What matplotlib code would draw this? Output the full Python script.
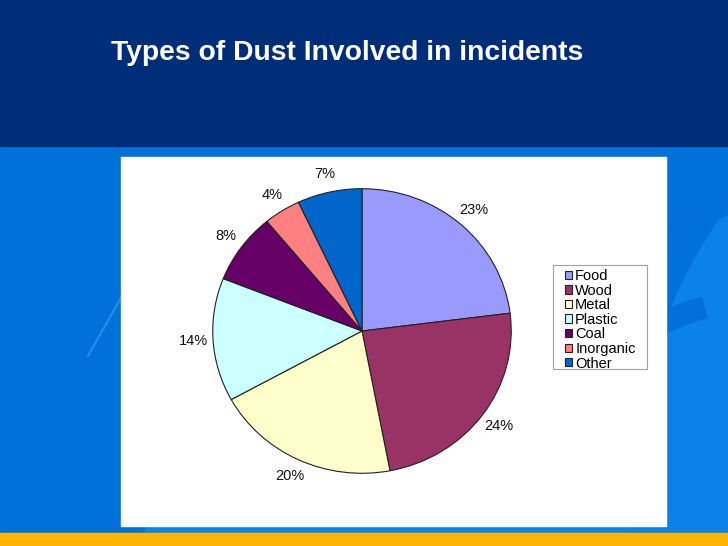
import matplotlib
matplotlib.use("Agg")
import matplotlib.pyplot as plt
from matplotlib.patches import Rectangle, Ellipse, Arc

categories = ["Food", "Wood", "Metal", "Plastic", "Coal", "Inorganic", "Other"]
values = [23, 24, 20, 14, 8, 4, 7]
colors = ["#9999ff", "#993366", "#ffffcc", "#ccffff", "#660066", "#ff8080", "#0066cc"]
title = "Types of Dust Involved in incidents"

plt.rcParams['font.family'] = ['Liberation Sans', 'DejaVu Sans']
W, H = 728, 546
fig = plt.figure(figsize=(W / 100, H / 100), dpi=100)

bg = fig.add_axes([0, 0, 1, 1])
bg.set_xlim(0, W)
bg.set_ylim(H, 0)
bg.axis("off")
bg.add_patch(Rectangle((0, 0), W, H, color="#0070da", zorder=0))
# subtle swooshes
bg.add_patch(Ellipse((520, 820), 920, 1000, color="#0a84e6", zorder=1))
bg.add_patch(Ellipse((980, 520), 700, 900, color="#0a82e8", zorder=1))
bg.add_patch(Arc((820, 560), 560, 760, theta1=200, theta2=260, lw=18, color="#0270da", zorder=1))
bg.add_patch(Arc((760, 620), 520, 640, theta1=205, theta2=260, lw=16, color="#0270da", zorder=1))
bg.plot([88, 122], [356, 296], color="#3a9af0", lw=1.5, alpha=0.7, zorder=1)
bg.add_patch(Rectangle((0, 0), W, 146, color="#002d78", zorder=2))
bg.add_patch(Rectangle((0, 533), W, 13, color="#ffb400", zorder=2))
bg.add_patch(Rectangle((121, 157), 545, 369, color="white", zorder=2))
bg.add_patch(Rectangle((552.5, 264.5), 94, 104, facecolor="white", edgecolor="#a0a0a0", lw=0.8, zorder=3))
bg.text(111, 53, title, color="white", fontsize=20.3, fontweight="bold", va="center", ha="left", zorder=3)

# pie: slightly elliptical like the original slide (300 px wide, 286 px tall)
ax = fig.add_axes([212 / W, (H - 474) / H, 300 / W, 286 / H])
wedges, texts = ax.pie(values, colors=colors, startangle=90, counterclock=False,
                       labels=[f"{v}%" for v in values], labeldistance=1.13,
                       wedgeprops=dict(edgecolor="#222222", linewidth=0.8),
                       textprops=dict(fontsize=10.5, color="#111111"))
for t in texts:
    t.set_ha("center")
    t.set_va("center")
ax.set_aspect("auto")
ax.set_xlim(-1.005, 1.005)
ax.set_ylim(-1.005, 1.005)

leg = fig.legend(wedges, categories, loc="upper left", bbox_to_anchor=(565 / W, 1 - 269 / H),
                 frameon=False, fontsize=10.5, handlelength=0.5, handleheight=0.5,
                 handletextpad=0.2, labelspacing=0.04, borderpad=0, borderaxespad=0)
leg.set_zorder(5)

fig.savefig("out.png", dpi=100)
